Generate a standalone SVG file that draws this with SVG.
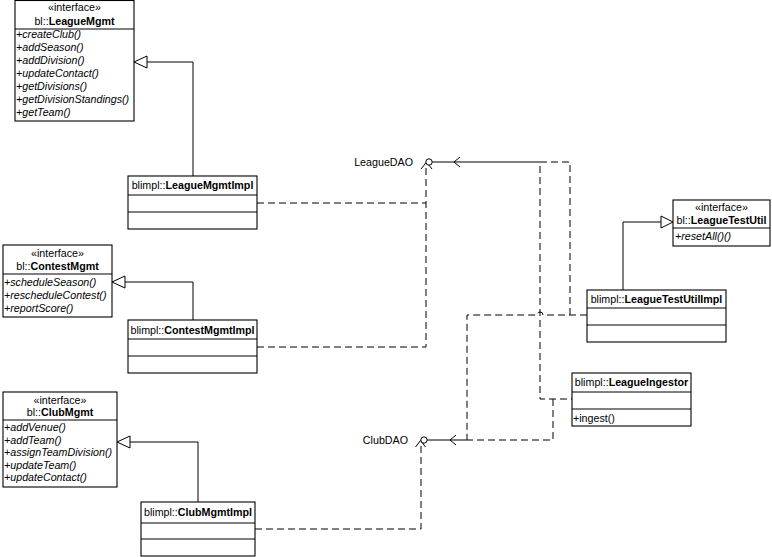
<svg xmlns="http://www.w3.org/2000/svg" width="772" height="557" viewBox="0 0 772 557">
<style>
text{font-family:"Liberation Sans",Arial,sans-serif;font-size:10.7px;fill:#000}
.b{font-weight:bold}
.i{font-style:italic}
.c{text-anchor:middle}
.box{fill:#fff;stroke:#000;stroke-width:1.1}
.ln{fill:none;stroke:#000;stroke-width:1}
.d{fill:none;stroke:#000;stroke-width:1;stroke-dasharray:7,4}
.tri{fill:#fff;stroke:#000;stroke-width:1}
.lol{fill:#fff;stroke:#000;stroke-width:1}
</style>
<rect width="772" height="557" fill="#fff"/>
<g id="connectors">
<!-- generalizations -->
<path class="ln" d="M147,62H193V176"/>
<polygon class="tri" points="134,62 147,56 147,68"/>
<path class="ln" d="M125,282H193V320"/>
<polygon class="tri" points="112,282 125,276 125,288"/>
<path class="ln" d="M130,442H198V502"/>
<polygon class="tri" points="117,442 130,436 130,448"/>
<path class="ln" d="M623,290V222H661"/>
<polygon class="tri" points="673,222 661,216 661,228"/>
<!-- dependencies to LeagueDAO -->
<path class="d" d="M257,203H426"/>
<path class="d" d="M257,347H426V166"/>
<polyline class="ln" points="421,169 426.5,162 432,169"/>
<path class="ln" d="M432,162H540"/>
<polyline class="ln" points="460,157 454,162 460,167"/>
<path class="d" d="M540,162H570V315"/>
<path class="d" d="M540,166V399H572"/>
<!-- LeagueTestUtilImpl to ClubDAO with hop -->
<path class="d" d="M587,315H543A3,3 0 0 0 537,315H467V440"/>
<!-- LeagueIngestor to ClubDAO -->
<path class="d" d="M553,399V440H467"/>
<path class="ln" d="M427,440H467"/>
<polyline class="ln" points="456,435 450,440 456,445"/>
<!-- ClubMgmtImpl to ClubDAO -->
<path class="d" d="M255,529H421V444"/>
<polyline class="ln" points="415.5,447 420.5,440.5 425.5,447"/>
</g>
<g id="LeagueDAO">
<circle class="lol" cx="429" cy="162" r="3.2"/>
<text x="413" y="166" text-anchor="end">LeagueDAO</text>
</g>
<g id="ClubDAO">
<circle class="lol" cx="424" cy="440" r="3.2"/>
<text x="408" y="444" text-anchor="end">ClubDAO</text>
</g>
<g id="LeagueMgmt">
<rect class="box" x="15" y="0.5" width="119" height="120.5"/>
<line class="ln" x1="15" y1="29" x2="134" y2="29"/>
<text class="c" x="74.5" y="11">«interface»</text>
<text class="c" x="74.5" y="25">bl::<tspan class="b">LeagueMgmt</tspan></text>
<text class="i" x="16" y="38">+createClub()</text>
<text class="i" x="16" y="51">+addSeason()</text>
<text class="i" x="16" y="64">+addDivision()</text>
<text class="i" x="16" y="77">+updateContact()</text>
<text class="i" x="16" y="90">+getDivisions()</text>
<text class="i" x="16" y="103">+getDivisionStandings()</text>
<text class="i" x="16" y="116">+getTeam()</text>
</g>
<g id="LeagueMgmtImpl">
<rect class="box" x="128" y="176" width="129" height="53"/>
<line class="ln" x1="128" y1="195" x2="257" y2="195"/>
<line class="ln" x1="128" y1="212" x2="257" y2="212"/>
<text class="c" x="192.5" y="189">blimpl::<tspan class="b">LeagueMgmtImpl</tspan></text>
</g>
<g id="ContestMgmt">
<rect class="box" x="3" y="245" width="109" height="72"/>
<line class="ln" x1="3" y1="274" x2="112" y2="274"/>
<text class="c" x="57.5" y="257">«interface»</text>
<text class="c" x="57.5" y="270">bl::<tspan class="b">ContestMgmt</tspan></text>
<text class="i" x="4" y="286">+scheduleSeason()</text>
<text class="i" x="4" y="298.5">+rescheduleContest()</text>
<text class="i" x="4" y="311.5">+reportScore()</text>
</g>
<g id="ContestMgmtImpl">
<rect class="box" x="128" y="320" width="129" height="53"/>
<line class="ln" x1="128" y1="339" x2="257" y2="339"/>
<line class="ln" x1="128" y1="356" x2="257" y2="356"/>
<text class="c" x="192.5" y="334">blimpl::<tspan class="b">ContestMgmtImpl</tspan></text>
</g>
<g id="ClubMgmt">
<rect class="box" x="3" y="392" width="114" height="95"/>
<line class="ln" x1="3" y1="420" x2="117" y2="420"/>
<text class="c" x="60" y="404">«interface»</text>
<text class="c" x="60" y="416">bl::<tspan class="b">ClubMgmt</tspan></text>
<text class="i" x="4" y="431">+addVenue()</text>
<text class="i" x="4" y="443.5">+addTeam()</text>
<text class="i" x="4" y="456">+assignTeamDivision()</text>
<text class="i" x="4" y="468.5">+updateTeam()</text>
<text class="i" x="4" y="481">+updateContact()</text>
</g>
<g id="ClubMgmtImpl">
<rect class="box" x="141" y="502" width="114" height="54"/>
<line class="ln" x1="141" y1="523" x2="255" y2="523"/>
<line class="ln" x1="141" y1="539" x2="255" y2="539"/>
<text class="c" x="198" y="516">blimpl::<tspan class="b">ClubMgmtImpl</tspan></text>
</g>
<g id="LeagueTestUtil">
<rect class="box" x="673" y="200" width="97" height="46"/>
<line class="ln" x1="673" y1="228" x2="770" y2="228"/>
<text class="c" x="721.5" y="211">«interface»</text>
<text class="c" x="721.5" y="224">bl::<tspan class="b">LeagueTestUtil</tspan></text>
<text class="i" x="675" y="240">+resetAll()()</text>
</g>
<g id="LeagueTestUtilImpl">
<rect class="box" x="587" y="290" width="139" height="52"/>
<line class="ln" x1="587" y1="308" x2="726" y2="308"/>
<line class="ln" x1="587" y1="325" x2="726" y2="325"/>
<text class="c" x="656.5" y="303">blimpl::<tspan class="b">LeagueTestUtilImpl</tspan></text>
</g>
<g id="LeagueIngestor">
<rect class="box" x="572" y="373" width="119" height="53"/>
<line class="ln" x1="572" y1="392" x2="691" y2="392"/>
<line class="ln" x1="572" y1="409" x2="691" y2="409"/>
<text class="c" x="631.5" y="386">blimpl::<tspan class="b">LeagueIngestor</tspan></text>
<text x="573" y="422">+ingest()</text>
</g>
</svg>
